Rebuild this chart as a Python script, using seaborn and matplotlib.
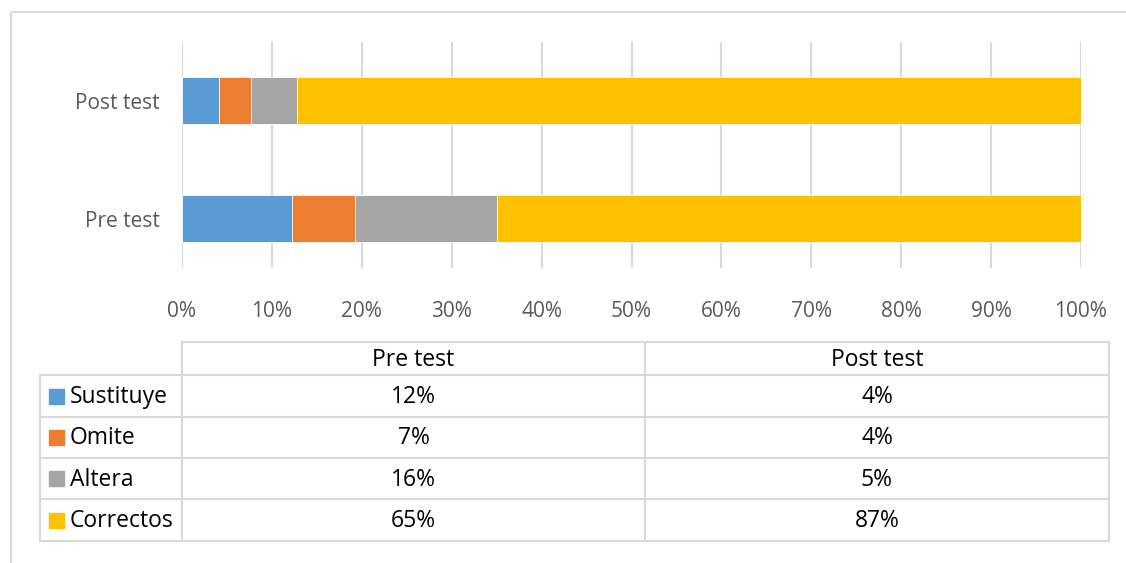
import matplotlib
matplotlib.use("Agg")
import matplotlib.pyplot as plt
import seaborn as sns
import pandas as pd
from matplotlib.ticker import FuncFormatter
from matplotlib.patches import Rectangle

# values (fractions of 100%)
TESTS = ["Pre test", "Post test"]
SERIES = ["Sustituye", "Omite", "Altera", "Correctos"]
PRE = [0.122, 0.070, 0.158, 0.650]
POST = [0.041, 0.036, 0.051, 0.872]
COLORS = ["#5B9BD5", "#ED7D31", "#A5A5A5", "#FFC000"]
TICKS = [0, 0.1, 0.2, 0.3, 0.4, 0.5, 0.6, 0.7, 0.8, 0.9, 1.0]

GRID = "#D9D9D9"
FONT = ["Open Sans", "DejaVu Sans"]

sns.set_style("white")
plt.rcParams["font.family"] = FONT

df = pd.DataFrame({"test": TESTS * 4,
                   "serie": [s for s in SERIES for _ in TESTS],
                   "value": [v for pair in zip(PRE, POST) for v in pair]})
df["right"] = df.groupby("test")["value"].cumsum()

W, H = 1126, 563
fig = plt.figure(figsize=(W / 100, H / 100), dpi=100)
ax = fig.add_axes([182 / W, 1 - 268 / H, (1081 - 182) / W, (268 - 42) / H])

order = ["Post test", "Pre test"]
# stacked bars: draw cumulative ends from the longest to the shortest
for serie, color in reversed(list(zip(SERIES, COLORS))):
    sub = df[df["serie"] == serie]
    sns.barplot(data=sub, x="right", y="test", order=order, color=color,
                saturation=1, orient="h", width=0.4, ax=ax, zorder=3,
                linewidth=0.6, edgecolor="white")

ax.set_xlim(0, 1)
ax.set_ylim(1.42, -0.5)
ax.set_xticks(TICKS)
ax.xaxis.set_major_formatter(FuncFormatter(lambda x, _: f"{x:.0%}"))
ax.grid(axis="x", color=GRID, linewidth=1.5, zorder=0)
ax.grid(axis="y", visible=False)
for s in ax.spines.values():
    s.set_visible(False)
ax.tick_params(axis="x", length=0, pad=24, labelsize=15, labelcolor="#595959")
ax.tick_params(axis="y", length=0, pad=16, labelsize=15, labelcolor="#595959")
ax.set_xlabel("")
ax.set_ylabel("")

# data table under the chart, drawn in pixel coordinates
ov = fig.add_axes([0, 0, 1, 1], zorder=5)
ov.set_xlim(0, W)
ov.set_ylim(H, 0)
ov.axis("off")
ov.add_patch(Rectangle((11, 12), W + 20, H + 20, fill=False, edgecolor=GRID, linewidth=1.5))

rows = [342, 375, 417, 458, 499, 541]
cols = [40, 182, 645, 1109]
lw = 1.5
ov.plot([cols[1], cols[3]], [rows[0], rows[0]], color=GRID, lw=lw)
for y in rows[1:]:
    ov.plot([cols[0], cols[3]], [y, y], color=GRID, lw=lw)
ov.plot([cols[0], cols[0]], [rows[1], rows[-1]], color=GRID, lw=lw)
for x in cols[1:]:
    ov.plot([x, x], [rows[0], rows[-1]], color=GRID, lw=lw)

tk = dict(fontsize=16.5, color="#000000", va="center", ha="center")
for i, t in enumerate(TESTS):
    ov.text((cols[i + 1] + cols[i + 2]) / 2, (rows[0] + rows[1]) / 2 + 1, t, **tk)
for j, (serie, color) in enumerate(zip(SERIES, COLORS)):
    yc = (rows[j + 1] + rows[j + 2]) / 2
    ov.add_patch(Rectangle((49, yc - 7.5), 15, 15, color=color))
    ov.text(70, yc + 1, serie, fontsize=16.5, color="#000000", va="center", ha="left")
    for i, vals in enumerate([PRE, POST]):
        ov.text((cols[i + 1] + cols[i + 2]) / 2, yc + 1, f"{round(vals[j] * 100)}%", **tk)

fig.savefig("out.png", dpi=100)
